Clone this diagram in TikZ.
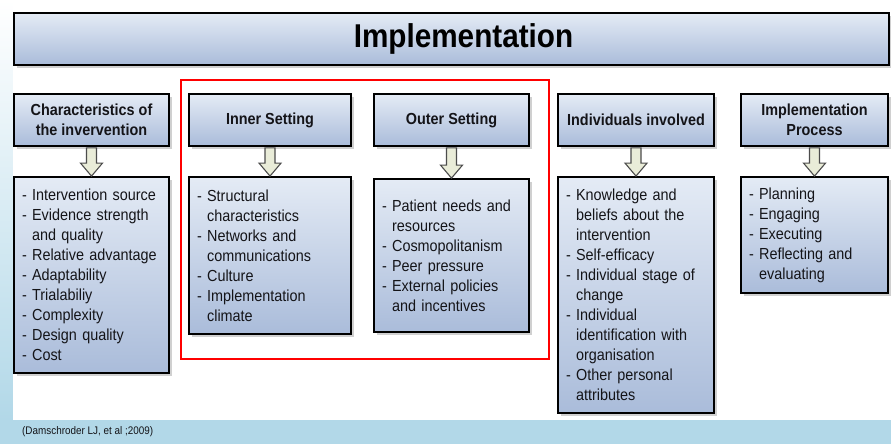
\documentclass[tikz,border=0pt]{standalone}
\usepackage{fontspec}
\setmainfont{Liberation Sans}[FakeStretch=0.9]
\usetikzlibrary{calc,shadows}

\definecolor{boxtop}{RGB}{228,235,245}
\definecolor{boxbottom}{RGB}{170,188,218}
\definecolor{bandblue}{RGB}{178,216,232}
\definecolor{arrowfill}{RGB}{233,236,216}
\definecolor{textgray}{RGB}{20,20,24}

\newcommand{\contline}{\hphantom{- }}

\tikzset{
    framebox/.style={draw=black, line width=1.8pt, top color=boxtop, bottom color=boxbottom,
        drop shadow={shadow xshift=3pt, shadow yshift=-3pt, opacity=0.3, fill=black!60}, text=textgray},
    headbox/.style={framebox, minimum height=52pt, font=\bfseries\fontsize{16}{20}\selectfont, align=center, inner sep=2pt},
    listbox/.style={framebox, font=\fontsize{16}{20}\selectfont, align=left, inner xsep=8pt, inner ysep=0pt},
    flowarrow/.style={draw=black!70, fill=arrowfill, line width=1.1pt, line join=miter},
}

\begin{document}
\begin{tikzpicture}[x=1pt,y=-1pt]
    \useasboundingbox (0,0) rectangle (891,444);

    % Background
    \fill[bandblue] (0,0) rectangle (891,444);
    \shade[top color=white, bottom color=bandblue] (0,0) rectangle (13,420);
    \fill[white] (13,0) rectangle (891,420);

    % Title banner
    \node[headbox, minimum width=875pt, text=black, font=\bfseries\fontsize{33}{36}\selectfont] (banner) at (451.5,39) {\hspace*{24pt}Implementation};

    % Domain headers
    \node[headbox, minimum width=155pt] (hdrchar) at (91.5,120) {Characteristics of\\the invervention};
    \node[headbox, minimum width=162pt] (hdrinner) at (270,120) {Inner Setting};
    \node[headbox, minimum width=155pt] (hdrouter) at (451.5,120) {Outer Setting};
    \node[headbox, minimum width=156pt] (hdrindiv) at (636,120) {Individuals involved};
    \node[headbox, minimum width=147pt] (hdrproc) at (814.5,120) {Implementation\\Process};

    % Construct lists
    \node[listbox, text width=139pt, minimum height=196pt] (bodychar) at (91.5,275) {
        - Intervention source\\
        - Evidence strength\\
        \contline and quality\\
        - Relative advantage\\
        - Adaptability\\
        - Trialabiliy\\
        - Complexity\\
        - Design quality\\
        - Cost};
    \node[listbox, text width=146pt, minimum height=157pt] (bodyinner) at (270,255.5) {
        - Structural\\
        \contline characteristics\\
        - Networks and\\
        \contline communications\\
        - Culture\\
        - Implementation\\
        \contline climate};
    \node[listbox, text width=139pt, minimum height=153pt] (bodyouter) at (451.5,255.5) {
        - Patient needs and\\
        \contline resources\\
        - Cosmopolitanism\\
        - Peer pressure\\
        - External policies\\
        \contline and incentives};
    \node[listbox, text width=140pt, minimum height=236pt] (bodyindiv) at (636,295) {
        - Knowledge and\\
        \contline beliefs about the\\
        \contline intervention\\
        - Self-efficacy\\
        - Individual stage of\\
        \contline change\\
        - Individual\\
        \contline identification with\\
        \contline organisation\\
        - Other personal\\
        \contline attributes};
    \node[listbox, text width=131pt, minimum height=116pt] (bodyproc) at (814.5,235) {
        - Planning\\
        - Engaging\\
        - Executing\\
        - Reflecting and\\
        \contline evaluating};

    % Block arrows header -> list
    \foreach \hd/\bd in {hdrchar/bodychar,hdrinner/bodyinner,hdrouter/bodyouter,hdrindiv/bodyindiv,hdrproc/bodyproc} {
        \draw[flowarrow] ($(\hd.south)+(-5,1)$) -- ($(\bd.north)+(-5,-13)$) -- ++(-6,0) -- (\bd.north)
            -- ($(\bd.north)+(11,-13)$) -- ++(-6,0) -- ($(\hd.south)+(5,1)$) -- cycle;
    }

    % Highlight frame
    \draw[red, line width=1.6pt] (181,80) rectangle (549,359);

    % Source
    \node[anchor=west, inner sep=0pt, text=textgray, font=\fontsize{11}{12}\selectfont] (citation) at (22,432) {(Damschroder LJ, et al ;2009)};
\end{tikzpicture}
\end{document}
